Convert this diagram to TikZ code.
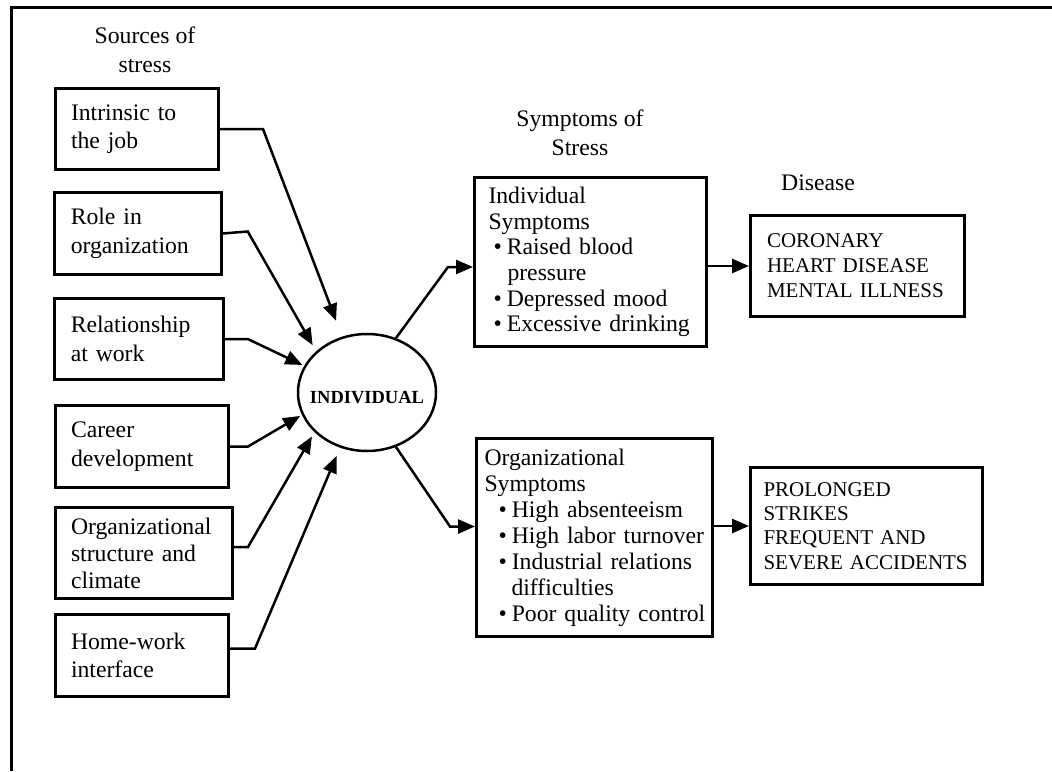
\documentclass[tikz,border=0pt]{standalone}
\usepackage{fontspec}
\setmainfont{Liberation Serif}
\usetikzlibrary{shapes.geometric, arrows.meta, calc}
\newcommand{\bul}[2]{\hspace*{#1}\mbox{\textbullet\hspace{5pt}#2}}

\begin{document}
\begin{tikzpicture}[x=1pt, y=-1pt,
    srcbox/.style={draw, line width=3pt, inner xsep=16pt, inner ysep=0pt, align=left,
      font=\fontsize{23.7}{28.5}\selectfont},
    symbox/.style={draw, line width=3pt, inner ysep=0pt, align=left},
    flow/.style={line width=2.5pt, -{Triangle[length=17pt, width=14pt]}}]
  \useasboundingbox (0,0) rectangle (1052,771);
  \draw[line width=3pt] (1052,7.5) -- (11.5,7.5) -- (11.5,771);
  % headings
  \node[align=center, font=\fontsize{23.7}{29}\selectfont] (hsrc) at (145,50) {Sources of\\stress};
  \node[align=center, font=\fontsize{23.7}{29}\selectfont] (hsym) at (580,133) {Symptoms of\\Stress};
  \node[font=\fontsize{23.7}{29}\selectfont] (hdis) at (818,183) {Disease};
  % sources of stress
  \node[srcbox, text width=131.5pt, minimum height=81pt] (s1) at (136.75,129) {Intrinsic to\\the job};
  \node[srcbox, text width=134.5pt, minimum height=82pt] (s2) at (138,233.5) {Role in\\organization};
  \node[srcbox, text width=136.5pt, minimum height=81pt] (s3) at (139,339) {Relationship\\at work};
  \node[srcbox, text width=141.5pt, minimum height=82pt] (s4) at (141.75,446.5) {Career\\development};
  \node[srcbox, text width=145.5pt, minimum height=91pt, font=\fontsize{23.7}{27}\selectfont] (s5) at (143.75,553) {Organizational\\structure and\\climate};
  \node[srcbox, text width=141.5pt, minimum height=82pt] (s6) at (141.75,655.5) {Home-work\\interface};
  % individual
  \node[ellipse, draw, line width=2.5pt, minimum width=138pt, minimum height=117pt, inner sep=0pt,
    text height=22pt, font=\fontsize{18.5}{20}\selectfont\bfseries] (ind) at (367,392.5) {\makebox[0pt]{INDIVIDUAL}};
  % symptoms
  \node[symbox, inner xsep=14pt, text width=204pt, minimum height=169pt, font=\fontsize{23.7}{25.6}\selectfont] (isym) at (590.5,262)
    {Individual\\Symptoms\\\bul{5pt}{Raised blood}\\\hspace*{19pt}pressure\\\bul{5pt}{Depressed mood}\\\bul{5pt}{Excessive drinking}};
  \node[symbox, inner xsep=8pt, text width=220pt, minimum height=198pt, font=\fontsize{23.7}{26}\selectfont] (osym) at (594.5,537.5)
    {Organizational\\Symptoms\\\bul{14pt}{High absenteeism}\\\bul{14pt}{High labor turnover}\\\bul{14pt}{Industrial relations}\\\hspace*{27pt}difficulties\\\bul{14pt}{Poor quality control}};
  % disease
  \node[symbox, inner xsep=16.5pt, text width=181pt, minimum height=101pt, font=\fontsize{21}{25}\selectfont] (cor) at (857.5,266)
    {CORONARY\\HEART DISEASE\\MENTAL ILLNESS};
  \node[symbox, inner xsep=13pt, text width=206pt, minimum height=117pt, font=\fontsize{21}{24.3}\selectfont] (prol) at (866.5,526)
    {PROLONGED\\STRIKES\\FREQUENT AND\\SEVERE ACCIDENTS};
  % arrows
  \draw[flow, shorten >=17pt] (s1.east) -- ++(43,0) -- (ind.114.6);
  \draw[flow, shorten >=7pt] (s2.east) -- ++(25,-2) -- (ind.141.7);
  \draw[flow, shorten >=2pt] (s3.east) -- ++(23,0) -- (ind.157.4);
  \draw[flow, shorten >=2pt] (s4.east) -- ++(18,0) -- (ind.199.7);
  \draw[flow, shorten >=5pt] ($(s5.east)+(0,-6)$) -- ++(14,0) -- (ind.217.5);
  \draw[flow, shorten >=9pt] ($(s6.east)+(0,-7)$) -- ++(25,0) -- (ind.244.2);
  \draw[flow] (ind.62) -- ($(isym.west)+(-25,5)$) -- ($(isym.west)+(0,5)$);
  \draw[flow] (ind.-62) -- ($(osym.west)+(-25,-11)$) -- ($(osym.west)+(0,-11)$);
  \draw[flow] (isym.east |- cor.west) -- (cor.west);
  \draw[flow] (osym.east |- prol.west) -- (prol.west);
\end{tikzpicture}
\end{document}
